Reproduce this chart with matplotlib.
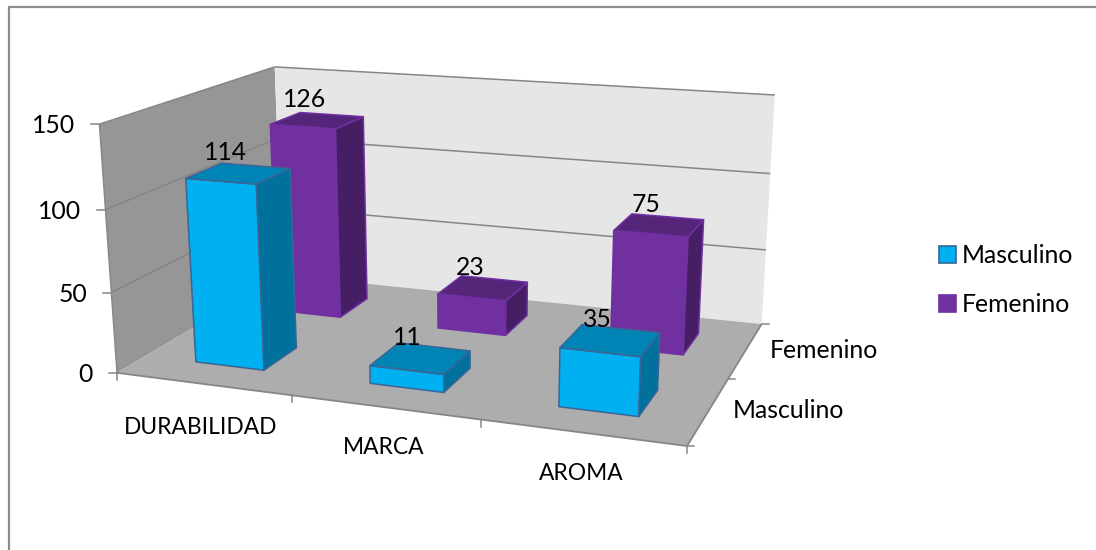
import numpy as np
import matplotlib
matplotlib.use("Agg")
import matplotlib.pyplot as plt
from matplotlib.patches import Patch, Polygon

# Chart values
categories = ["DURABILIDAD", "MARCA", "AROMA"]
series_names = ["Masculino", "Femenino"]
masculino = [114, 11, 35]
femenino = [126, 23, 75]
value_ticks = [0, 50, 100, 150]

# Box dimensions of the plot in model units: width, depth, height
X_MAX, Z_MAX, Y_MAX = 3, 2, 150
BAR_LO, BAR_HI = 0.3, 0.7

# Camera calibration: model point -> screen point, used to solve a projection
calib = [
    ((0, 0, 0), (116.5, 373)),
    ((3, 0, 0), (687, 446)),
    ((3, 2, 0), (761.5, 324)),
    ((0, 2, 0), (283, 275)),
    ((0, 0, 150), (100, 124)),
    ((0, 2, 150), (274, 67)),
    ((3, 2, 150), (775, 95)),
]


def solve_camera(pairs):
    rows = []
    for (x, z, y), (u, v) in pairs:
        rows.append([x, z, y, 1, 0, 0, 0, 0, -u * x, -u * z, -u * y, -u])
        rows.append([0, 0, 0, 0, x, z, y, 1, -v * x, -v * z, -v * y, -v])
    return np.linalg.svd(np.array(rows, float))[2][-1].reshape(3, 4)


CAM = solve_camera(calib)


def proj(x, z, y):
    h = CAM @ np.array([x, z, y, 1.0])
    return h[0] / h[2], h[1] / h[2]


def face(points, zorder, **kw):
    ax.add_patch(Polygon([proj(*p) for p in points], closed=True, zorder=zorder, **kw))


def segment(a, b, zorder=2, **kw):
    pa, pb = proj(*a), proj(*b)
    ax.plot([pa[0], pb[0]], [pa[1], pb[1]], solid_capstyle="butt", zorder=zorder, **kw)


plt.rcParams["font.family"] = ["Lato", "DejaVu Sans"]
FS = 17.8
FS_CAT = 16.4
fig = plt.figure(figsize=(10.96, 5.5), dpi=100)
ax = fig.add_axes([0, 0, 1, 1])
ax.set_xlim(0, 1096)
ax.set_ylim(550, 0)
ax.axis("off")

GRID = "#868686"

# Chart area frame: top and left sides
ax.plot([1096, 9, 9], [7, 7, 550], color="#8c8c8c", lw=1.6, zorder=1, solid_joinstyle="miter")

# Walls and floor
face([(0, 0, 0), (0, 2, 0), (0, 2, 150), (0, 0, 150)], 1, fc="#969696", ec="none")
face([(0, 2, 0), (3, 2, 0), (3, 2, 150), (0, 2, 150)], 1, fc="#e6e6e6", ec="none")
face([(0, 0, 0), (3, 0, 0), (3, 2, 0), (0, 2, 0)], 1, fc="#adadad", ec="none")

# Gridlines running along the left and back walls
for v in value_ticks[1:]:
    segment((0, 0, v), (0, 2, v), color=GRID, lw=1.1)
    segment((0, 2, v), (3, 2, v), color=GRID, lw=1.1)
segment((0, 0, 0), (0, 0, 150), color=GRID, lw=1.0)
segment((0, 0, 0), (3, 0, 0), color=GRID, lw=1.3)
segment((3, 0, 0), (3, 2, 0), color=GRID, lw=1.3)

# Axis ticks
for v in value_ticks:
    p = proj(0, 0, v)
    ax.plot([p[0] - 8, p[0]], [p[1], p[1]], color=GRID, lw=1.1, zorder=2)
    ax.text(p[0] - 24, p[1] + 1.5, str(v), ha="right", va="center", fontsize=FS, color="black")
for i in range(X_MAX + 1):
    p = proj(i, 0, 0)
    ax.plot([p[0], p[0]], [p[1], p[1] + 7], color=GRID, lw=1.1, zorder=2)
for k in range(Z_MAX + 1):
    p = proj(X_MAX, k, 0)
    ax.plot([p[0], p[0] + 7], [p[1], p[1]], color=GRID, lw=1.1, zorder=2)

cat_label_xy = [(201, 428), (384, 447), (581.5, 473)]
for name, (u, v) in zip(categories, cat_label_xy):
    ax.text(u, v, name, ha="center", va="center", fontsize=FS_CAT, color="black")
for (u, v), name in zip([(733, 411), (770, 351)], series_names):
    ax.text(u, v, name, ha="left", va="center", fontsize=FS, color="black")

styles = {
    "Masculino": dict(front="#00b0f0", side="#00709c", top="#0084b5", edge="#3a6596"),
    "Femenino": dict(front="#7030a0", side="#451e63", top="#542578", edge="#7230a4"),
}


def bar(cat, row, value, st, z):
    x0, x1 = cat + BAR_LO, cat + BAR_HI
    z0, z1 = row + BAR_LO, row + BAR_HI
    kw = dict(ec=st["edge"], lw=1.1, joinstyle="round")
    face([(x0, z0, 0), (x1, z0, 0), (x1, z0, value), (x0, z0, value)], z, fc=st["front"], **kw)
    face([(x1, z0, 0), (x1, z1, 0), (x1, z1, value), (x1, z0, value)], z, fc=st["side"], **kw)
    face([(x0, z0, value), (x1, z0, value), (x1, z1, value), (x0, z1, value)], z, fc=st["top"], **kw)


# Back row first so the front row overlaps it
tops = []
for row, (name, vals) in reversed(list(enumerate(zip(series_names, [masculino, femenino])))):
    for cat, val in enumerate(vals):
        bar(cat, row, val, styles[name], 3 + (1 - row))
        tops.append((cat, row, val))

for cat, row, val in tops:
    u, v = proj(cat + 0.5, row + 0.5, val)
    ax.text(u - 13, v - 21, str(val), ha="center", va="center", fontsize=FS, color="black", zorder=10)

handles = [
    Patch(fc=styles[n]["front"], ec=styles[n]["edge"] if n == "Masculino" else styles[n]["front"], lw=1.2)
    for n in series_names
]
ax.legend(
    handles, series_names, loc="center left", bbox_to_anchor=(917, 280), bbox_transform=ax.transData,
    frameon=False, fontsize=FS, handlelength=0.68, handleheight=0.68, handletextpad=0.24, labelspacing=1.04,
)

fig.savefig("out.png", dpi=100)
